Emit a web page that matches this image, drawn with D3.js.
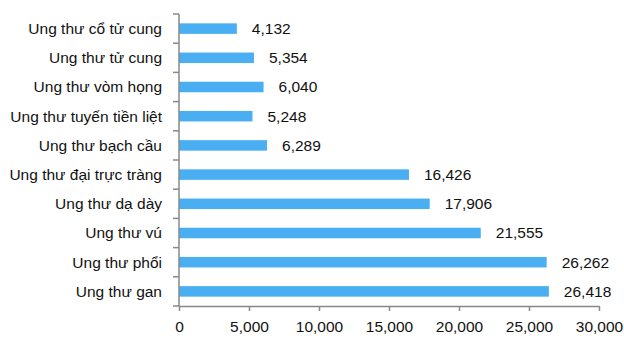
<!DOCTYPE html>
<html><head><meta charset="utf-8">
<script src="https://cdn.jsdelivr.net/npm/d3@7"></script>
<style>body{margin:0;background:#fff}svg{display:block}text{font-family:"Liberation Sans",Arial,sans-serif;fill:#111}</style>
</head><body><svg id="c" width="624" height="338"></svg>
<script>
const categories = ["Ung thư cổ tử cung","Ung thư tử cung","Ung thư vòm họng","Ung thư tuyến tiền liệt","Ung thư bạch cầu","Ung thư đại trực tràng","Ung thư dạ dày","Ung thư vú","Ung thư phổi","Ung thư gan"];
const values = [4132,5354,6040,5248,6289,16426,17906,21555,26262,26418];
const xTicks = [0,5000,10000,15000,20000,25000,30000];

const svg = d3.select("#c");
const m = {l:179, r:25, t:14, b:32};
const W = 624, H = 338;
const x = d3.scaleLinear().domain([0,30000]).range([m.l, W-m.r]);
const y = d3.scaleBand().domain(categories).range([m.t, H-m.b]).paddingInner(0.64).paddingOuter(0.32);
const fmt = d3.format(",");
const fs = "15.5px";

svg.selectAll("rect.bar").data(values).join("rect")
  .attr("x", x(0)).attr("y", (d,i)=>y(categories[i]))
  .attr("width", d=>x(d)-x(0)).attr("height", y.bandwidth())
  .attr("fill", "#4aaef3");

svg.selectAll("text.val").data(values).join("text")
  .attr("x", d=>x(d)+15).attr("y", (d,i)=>y(categories[i])+y.bandwidth()/2)
  .attr("dy","0.35em").style("font-size",fs).text(d=>fmt(d));

// y axis
const step = (H-m.b-m.t)/categories.length;
const gy = svg.append("g");
gy.append("line").attr("x1",m.l).attr("x2",m.l).attr("y1",m.t).attr("y2",H-m.b).attr("stroke","#888").attr("stroke-width",1.5);
d3.range(categories.length+1).forEach(i=>{
  gy.append("line").attr("x1",m.l-6).attr("x2",m.l).attr("y1",m.t+i*step).attr("y2",m.t+i*step).attr("stroke","#888").attr("stroke-width",1.5);
});
categories.forEach(c=>{
  gy.append("text").attr("x",m.l-17).attr("y",m.t+ (categories.indexOf(c)+0.5)*step)
    .attr("dy","0.35em").attr("text-anchor","end").style("font-size",fs).text(c);
});

// x axis
const gx = svg.append("g").attr("transform",`translate(0,${H-m.b})`)
  .call(d3.axisBottom(x).tickValues(xTicks).tickFormat(fmt).tickSize(5).tickSizeOuter(0));
gx.select(".domain").attr("stroke","#888").attr("stroke-width",1.5);
gx.selectAll(".tick line").attr("stroke","#888").attr("stroke-width",1.5);
gx.selectAll(".tick text").style("font-size",fs).style("font-family","'Liberation Sans',Arial,sans-serif").attr("fill","#111").attr("y",15);
</script></body></html>
